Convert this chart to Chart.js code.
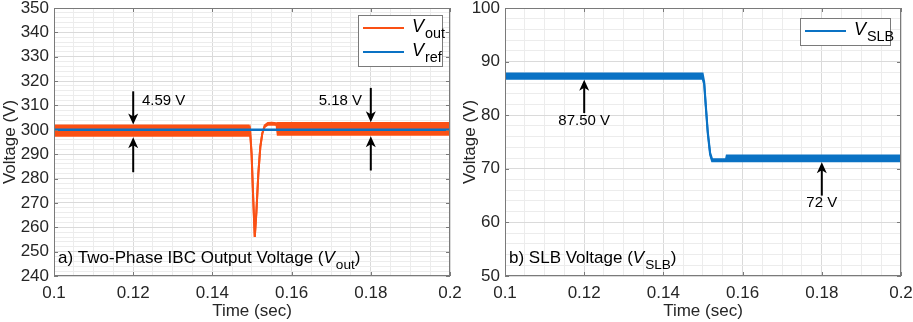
<!DOCTYPE html>
<html>
<head>
<meta charset="utf-8">
<script src="https://cdn.jsdelivr.net/npm/chart.js@4.4.1/dist/chart.umd.min.js"></script>
<style>
  body { margin: 0; background: #fff; }
  #wrap { position: relative; width: 913px; height: 322px; overflow: hidden; }
  #left-box { position: absolute; left: 0; top: 0; width: 472px; height: 322px; }
  #right-box { position: absolute; left: 460px; top: 0; width: 453px; height: 322px; }
</style>
</head>
<body>
<div id="wrap">
  <div id="left-box"><canvas id="left-chart" width="472" height="322"></canvas></div>
  <div id="right-box"><canvas id="right-chart" width="453" height="322"></canvas></div>
</div>
<script>
// panel a: output voltage envelope (upper / lower edge of ripple band)
const voutTime = [0.1, 0.1492, 0.1495, 0.1499, 0.1503, 0.1507, 0.1511, 0.1516, 0.1521, 0.1526, 0.1532, 0.1540, 0.1550, 0.1562, 0.1565, 0.2];
const voutUpper = [301.8, 301.8, 300.3, 290, 272, 256, 266, 282, 293, 298.5, 301.8, 302.8, 302.9, 302.7, 302.8, 302.8];
const voutLower = [297.6, 297.6, 299.7, 290, 272, 256, 266, 282, 293, 298.5, 301.2, 302.1, 302.2, 302.0, 298.0, 298.0];
const vrefTime = [0.1, 0.2];
const vrefValues = [300, 300];

// panel b: SLB voltage envelope
const slbTime = [0.1, 0.1499, 0.1503, 0.1507, 0.1512, 0.1518, 0.1523, 0.1558, 0.1560, 0.2];
const slbUpper = [87.8, 87.8, 86.2, 82.0, 77.0, 73.0, 71.8, 71.8, 72.5, 72.5];
const slbLower = [86.8, 86.8, 85.8, 81.6, 76.6, 72.6, 71.4, 71.4, 71.4, 71.4];

// annotations: [time, arrow tail, arrow tip]
const voutArrows = [[0.12, 315.8, 302.2], [0.12, 282.6, 297.0], [0.18, 317.2, 303.1], [0.18, 283.3, 297.4]];
const voutNotes = [["4.59 V", 0.1222, 312, "left"], ["5.18 V", 0.1778, 312, "right"]];
const slbArrows = [[0.12, 80.4, 86.6], [0.18, 65.0, 71.2]];
const slbNotes = [["87.50 V", 0.12, 78.9, "center"], ["72 V", 0.18, 63.6, "center"]];

const orange = "#FA5014";
const blue = "#0A72C4";
const FONT = "'Liberation Sans', Arial, Helvetica, sans-serif";

function pts(xs, ys) {
  return xs.map((x, i) => ({ x: x, y: ys[i] }));
}

function drawRich(ctx, x, y, parts, size) {
  let cx = x;
  parts.forEach(p => {
    const s = p.sub ? size * 0.8 : size;
    ctx.font = (p.italic ? "italic " : "") + s + "px " + FONT;
    ctx.fillText(p.t, cx, y + (p.sub ? size * 0.35 : 0));
    cx += ctx.measureText(p.t).width + (p.italic ? 1 : 0);
  });
}

function arrow(ctx, x, y0, y1) {
  const dir = y1 > y0 ? 1 : -1;
  ctx.beginPath();
  ctx.moveTo(x, y0);
  ctx.lineTo(x, y1 - dir * 6);
  ctx.lineWidth = 2;
  ctx.strokeStyle = "#000";
  ctx.stroke();
  ctx.beginPath();
  ctx.moveTo(x, y1);
  ctx.lineTo(x - 5, y1 - dir * 11);
  ctx.lineTo(x, y1 - dir * 8);
  ctx.lineTo(x + 5, y1 - dir * 11);
  ctx.closePath();
  ctx.fillStyle = "#000";
  ctx.fill();
}

function makeDecor(arrows, notes, legendItems, panelParts, legendRight, legendWidth) {
  return {
    id: "decor",
    afterDatasetsDraw(chart) {
      const ctx = chart.ctx;
      const a = chart.chartArea;
      const xs = chart.scales.x;
      const ys = chart.scales.y;
      ctx.save();
      // frame + inside tick marks
      ctx.strokeStyle = "#7a7a7a";
      ctx.lineWidth = 1;
      ctx.strokeRect(a.left + 0.5, a.top + 0.5, a.right - a.left - 1, a.bottom - a.top - 1);
      xs.ticks.forEach(t => {
        if (Math.round(t.value * 1000) % 20 !== 0) return;
        const px = Math.round(xs.getPixelForValue(t.value)) + 0.5;
        ctx.beginPath();
        ctx.moveTo(px, a.bottom); ctx.lineTo(px, a.bottom - 4);
        ctx.moveTo(px, a.top); ctx.lineTo(px, a.top + 4);
        ctx.stroke();
      });
      ys.ticks.forEach(t => {
        if (Math.round(t.value) % 10 !== 0) return;
        const py = Math.round(ys.getPixelForValue(t.value)) + 0.5;
        ctx.beginPath();
        ctx.moveTo(a.left, py); ctx.lineTo(a.left + 4, py);
        ctx.moveTo(a.right, py); ctx.lineTo(a.right - 4, py);
        ctx.stroke();
      });
      // arrows
      arrows.forEach(r => arrow(ctx, xs.getPixelForValue(r[0]), ys.getPixelForValue(r[1]), ys.getPixelForValue(r[2])));
      // notes
      ctx.fillStyle = "#000";
      ctx.font = "15px " + FONT;
      ctx.textBaseline = "middle";
      notes.forEach(n => {
        ctx.textAlign = n[3];
        ctx.fillText(n[0], xs.getPixelForValue(n[1]), ys.getPixelForValue(n[2]));
      });
      // panel label
      ctx.textAlign = "left";
      ctx.textBaseline = "alphabetic";
      ctx.fillStyle = "#000";
      drawRich(ctx, a.left + 4, a.bottom - 13, panelParts, 17);
      // legend box
      const lh = 24;
      const bx = a.right - legendRight - legendWidth;
      const by = a.top + (legendItems.length > 1 ? 7 : 10);
      const bh = legendItems.length * lh + 3;
      ctx.fillStyle = "#fff";
      ctx.fillRect(bx, by, legendWidth, bh);
      ctx.strokeStyle = "#7a7a7a";
      ctx.lineWidth = 1;
      ctx.strokeRect(bx + 0.5, by + 0.5, legendWidth, bh);
      legendItems.forEach((it, i) => {
        const cy = by + 13 + i * lh;
        ctx.beginPath();
        ctx.moveTo(bx + 5, cy); ctx.lineTo(bx + 46, cy);
        ctx.strokeStyle = it.color;
        ctx.lineWidth = 2;
        ctx.stroke();
        ctx.fillStyle = "#000";
        drawRich(ctx, bx + 54, cy + 4, [{ t: "V", italic: true }, { t: it.sub, sub: true }], 18);
      });
      ctx.restore();
    }
  };
}

function scaleOpts(min, max, minorStep, majorStep, isX, fitSize) {
  const isMajor = v => isX ? Math.round(v * 1000) % Math.round(majorStep * 1000) === 0 : Math.round(v) % majorStep === 0;
  return {
    type: "linear",
    min: min,
    max: max,
    afterFit(scale) {
      if (isX) {
        scale.height = fitSize;
        scale.paddingLeft = 0;
        scale.paddingRight = 0;
      } else {
        scale.width = fitSize;
        scale.paddingTop = 0;
        scale.paddingBottom = 0;
      }
    },
    afterBuildTicks(scale) {
      const ticks = [];
      const n = Math.round((max - min) / minorStep);
      for (let i = 0; i <= n; i++) ticks.push({ value: +(min + i * minorStep).toFixed(4) });
      scale.ticks = ticks;
    },
    border: { display: false },
    grid: {
      drawTicks: false,
      color: ctx => isMajor(ctx.tick.value) ? "#dadada" : "#ececec",
      lineWidth: 1
    },
    ticks: {
      autoSkip: false,
      maxRotation: 0,
      padding: isX ? 7 : 5,
      color: "#262626",
      font: { family: FONT, size: 17 },
      callback: v => isMajor(v) ? String(+v.toFixed(2)) : ""
    },
    title: {
      display: true,
      text: isX ? "Time (sec)" : "Voltage (V)",
      color: "#262626",
      font: { family: FONT, size: 17 },
      padding: { top: 0, bottom: 0 }
    }
  };
}

function bandSets(times, upper, lower, color) {
  return [
    { data: pts(times, upper), borderColor: color, borderWidth: 2, pointRadius: 0, fill: false, tension: 0 },
    { data: pts(times, lower), borderColor: color, borderWidth: 2, pointRadius: 0, fill: "-1", backgroundColor: color, tension: 0 }
  ];
}

const leftChart = document.getElementById("left-chart");
new Chart(leftChart, {
  type: "line",
  data: {
    datasets: [
      ...bandSets(voutTime, voutUpper, voutLower, orange),
      { data: pts(vrefTime, vrefValues), borderColor: blue, borderWidth: 2.5, pointRadius: 0, fill: false, order: -1 }
    ]
  },
  options: {
    responsive: false,
    animation: false,
    layout: { padding: { top: 8, right: 22, left: 0, bottom: 0 } },
    plugins: { legend: { display: false }, tooltip: { enabled: false } },
    scales: {
      x: scaleOpts(0.1, 0.2, 0.005, 0.02, true, 46),
      y: scaleOpts(240, 350, 2, 10, false, 54)
    }
  },
  plugins: [makeDecor(voutArrows, voutNotes,
    [{ color: orange, sub: "out" }, { color: blue, sub: "ref" }],
    [{ t: "a) Two-Phase IBC Output Voltage (" }, { t: "V", italic: true }, { t: "out", sub: true }, { t: ")" }],
    8, 84)]
});

const rightChart = document.getElementById("right-chart");
new Chart(rightChart, {
  type: "line",
  data: {
    datasets: bandSets(slbTime, slbUpper, slbLower, blue)
  },
  options: {
    responsive: false,
    animation: false,
    layout: { padding: { top: 8, right: 12, left: 0, bottom: 0 } },
    plugins: { legend: { display: false }, tooltip: { enabled: false } },
    scales: {
      x: scaleOpts(0.1, 0.2, 0.005, 0.02, true, 46),
      y: scaleOpts(50, 100, 2, 10, false, 45)
    }
  },
  plugins: [makeDecor(slbArrows, slbNotes,
    [{ color: blue, sub: "SLB" }],
    [{ t: "b) SLB Voltage (" }, { t: "V", italic: true }, { t: "SLB", sub: true }, { t: ")" }],
    11, 90)]
});
</script>
</body>
</html>
